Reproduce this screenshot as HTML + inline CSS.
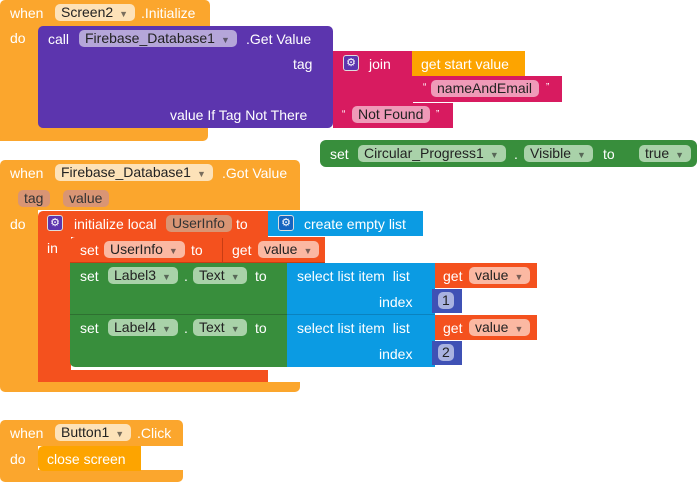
<!DOCTYPE html>
<html><head><meta charset="utf-8"><style>
body{margin:0;width:697px;height:482px;background:#fff;position:relative;overflow:hidden;font-family:"Liberation Sans",Arial,sans-serif;font-size:14px;color:#fff}
div,span{position:absolute;box-sizing:border-box}
.o{background:#fba62d}
.pu{background:#5c35ae}
.mg{background:#d81b60}
.gr{background:#388e3c}
.bl{background:#0b9be3}
.rd{background:#f4511e}
.nb{background:#3f51b5}
.t{white-space:nowrap;line-height:16px}
.p{border-radius:5px;height:17px;line-height:17px;padding:0 7px 0 6px;white-space:nowrap;color:#222}
.po{background:#fde2b8}
.ppu{background:#b5a6d9}
.pg{background:#a9d2a9}
.pr{background:#fbb8a2}
.pm{background:#ef9ab8}
.pt{background:#d99574;color:#333}
.pn{background:#a9b2e0}
.dd{font-size:9px;opacity:.6;margin-left:6px}
.ic{width:16px;height:16px;border-radius:3px;background:#5c35ae;border:1px solid #ddd;font-size:11px;line-height:14px;text-align:center}
</style></head><body>

<!-- Block 1 -->
<div class="o" style="left:0;top:0;width:210px;height:28px;border-radius:5px 5px 0 0"></div>
<div class="o" style="left:0;top:27px;width:40px;height:114px"></div>
<div class="o" style="left:0;top:127px;width:208px;height:14px;border-radius:0 0 5px 5px"></div>
<span class="t" style="left:10px;top:5px">when</span>
<span class="p po" style="left:55px;top:4px">Screen2<span class="dd" style="position:static">▼</span></span>
<span class="t" style="left:141px;top:5px">.Initialize</span>
<span class="t" style="left:10px;top:30px">do</span>
<div class="pu" style="left:38px;top:26px;width:295px;height:102px;border-radius:5px"></div>
<span class="t" style="left:48px;top:31px">call</span>
<span class="p ppu" style="left:79px;top:30px">Firebase_Database1<span class="dd" style="position:static">▼</span></span>
<span class="t" style="left:246px;top:31px">.Get Value</span>
<span class="t" style="left:293px;top:56px">tag</span>
<span class="t" style="left:170px;top:107px">value If Tag Not There</span>

<div class="mg" style="left:333px;top:51px;width:80px;height:52px"></div>
<div class="ic" style="left:343px;top:55px">⚙</div>
<span class="t" style="left:369px;top:56px">join</span>
<div style="left:412px;top:51px;width:113px;height:25px;background:#fda400"></div>
<span class="t" style="left:421px;top:56px">get start value</span>
<div class="mg" style="left:412px;top:76px;width:150px;height:26px"></div>
<span class="t" style="left:423px;top:80px;font-size:10px">“</span>
<span class="p pm" style="left:431px;top:80px">nameAndEmail</span>
<span class="t" style="left:546px;top:80px;font-size:10px">”</span>
<div class="mg" style="left:333px;top:103px;width:120px;height:25px"></div>
<span class="t" style="left:342px;top:107px;font-size:10px">“</span>
<span class="p pm" style="left:352px;top:106px">Not Found</span>
<span class="t" style="left:436px;top:107px;font-size:10px">”</span>

<div class="gr" style="left:320px;top:140px;width:377px;height:27px;border-radius:6px"></div>
<span class="t" style="left:330px;top:146px">set</span>
<span class="p pg" style="left:358px;top:145px">Circular_Progress1<span class="dd" style="position:static">▼</span></span>
<span class="t" style="left:514px;top:146px">.</span>
<span class="p pg" style="left:524px;top:145px">Visible<span class="dd" style="position:static">▼</span></span>
<span class="t" style="left:603px;top:146px">to</span>
<span class="p pg" style="left:639px;top:145px">true<span class="dd" style="position:static">▼</span></span>

<!-- Block 2 -->
<div class="o" style="left:0;top:160px;width:300px;height:232px;border-radius:5px"></div>
<div style="left:38px;top:210px;width:262px;height:172px;background:#fff"></div>
<span class="t" style="left:10px;top:165px">when</span>
<span class="p po" style="left:55px;top:164px">Firebase_Database1<span class="dd" style="position:static">▼</span></span>
<span class="t" style="left:222px;top:165px">.Got Value</span>
<span class="p pt" style="left:18px;top:190px">tag</span>
<span class="p pt" style="left:63px;top:190px">value</span>
<span class="t" style="left:10px;top:216px">do</span>

<div class="rd" style="left:38px;top:211px;width:230px;height:26px;border-radius:5px 0 0 0"></div>
<div class="rd" style="left:38px;top:236px;width:33px;height:146px;border-radius:0 0 0 5px"></div>
<div class="rd" style="left:38px;top:370px;width:230px;height:12px"></div>
<div class="ic" style="left:47px;top:215px">⚙</div>
<span class="t" style="left:74px;top:216px">initialize local</span>
<span class="p pt" style="left:166px;top:215px">UserInfo</span>
<span class="t" style="left:236px;top:216px">to</span>
<span class="t" style="left:47px;top:240px">in</span>
<div class="bl" style="left:268px;top:211px;width:155px;height:25px"></div>
<div class="ic" style="left:278px;top:215px;background:#1565c0">⚙</div>
<span class="t" style="left:304px;top:216px">create empty list</span>

<div class="rd" style="left:70px;top:237px;width:255px;height:26px;border-radius:5px 0 0 0;border-bottom:1px solid #c83d14"></div>
<span class="t" style="left:80px;top:242px">set</span>
<span class="p pr" style="left:104px;top:241px">UserInfo<span class="dd" style="position:static">▼</span></span>
<span class="t" style="left:191px;top:242px">to</span>
<div style="left:222px;top:238px;width:1px;height:24px;background:#c83d14"></div>
<span class="t" style="left:232px;top:242px">get</span>
<span class="p pr" style="left:258px;top:241px">value<span class="dd" style="position:static">▼</span></span>

<div class="gr" style="left:70px;top:263px;width:217px;height:52px;border-bottom:1px solid #2e7031"></div>
<div class="gr" style="left:70px;top:315px;width:217px;height:52px;border-radius:0 0 0 5px"></div>
<div class="bl" style="left:287px;top:263px;width:148px;height:52px;border-bottom:1px solid #0a82bf"></div>
<div class="bl" style="left:287px;top:315px;width:148px;height:52px"></div>

<span class="t" style="left:80px;top:268px">set</span>
<span class="p pg" style="left:108px;top:267px">Label3<span class="dd" style="position:static">▼</span></span>
<span class="t" style="left:184px;top:268px">.</span>
<span class="p pg" style="left:193px;top:267px">Text<span class="dd" style="position:static">▼</span></span>
<span class="t" style="left:255px;top:268px">to</span>
<span class="t" style="left:297px;top:268px">select list item&nbsp; list</span>
<span class="t" style="left:379px;top:294px">index</span>
<div class="rd" style="left:435px;top:263px;width:102px;height:25px"></div>
<span class="t" style="left:443px;top:268px">get</span>
<span class="p pr" style="left:469px;top:267px">value<span class="dd" style="position:static">▼</span></span>
<div class="nb" style="left:432px;top:289px;width:30px;height:24px"></div>
<span class="p pn" style="left:438px;top:292px;padding:0 4px">1</span>

<span class="t" style="left:80px;top:320px">set</span>
<span class="p pg" style="left:108px;top:319px">Label4<span class="dd" style="position:static">▼</span></span>
<span class="t" style="left:184px;top:320px">.</span>
<span class="p pg" style="left:193px;top:319px">Text<span class="dd" style="position:static">▼</span></span>
<span class="t" style="left:255px;top:320px">to</span>
<span class="t" style="left:297px;top:320px">select list item&nbsp; list</span>
<span class="t" style="left:379px;top:346px">index</span>
<div class="rd" style="left:435px;top:315px;width:102px;height:25px"></div>
<span class="t" style="left:443px;top:320px">get</span>
<span class="p pr" style="left:469px;top:319px">value<span class="dd" style="position:static">▼</span></span>
<div class="nb" style="left:432px;top:341px;width:30px;height:24px"></div>
<span class="p pn" style="left:438px;top:344px;padding:0 4px">2</span>

<!-- Block 3 -->
<div class="o" style="left:0;top:420px;width:183px;height:62px;border-radius:5px"></div>
<div style="left:38px;top:446px;width:145px;height:24px;background:#fff"></div>
<span class="t" style="left:10px;top:425px">when</span>
<span class="p po" style="left:55px;top:424px">Button1<span class="dd" style="position:static">▼</span></span>
<span class="t" style="left:137px;top:425px">.Click</span>
<span class="t" style="left:10px;top:451px">do</span>
<div style="left:38px;top:446px;width:103px;height:25px;background:#fda400;border-radius:5px 0 0 5px"></div>
<span class="t" style="left:47px;top:451px">close screen</span>
</body></html>
